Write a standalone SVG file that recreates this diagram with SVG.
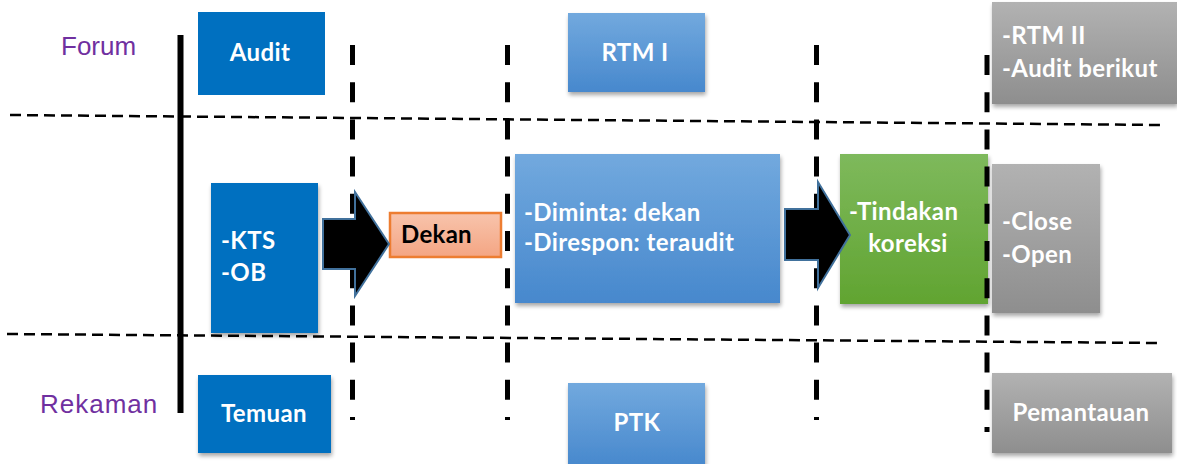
<svg xmlns="http://www.w3.org/2000/svg" width="1177" height="464" viewBox="0 0 1177 464">
  <defs>
    <linearGradient id="gBlue" x1="0" y1="0" x2="0" y2="1">
      <stop offset="0" stop-color="#72A9DE"/>
      <stop offset="1" stop-color="#4788CD"/>
    </linearGradient>
    <linearGradient id="gGreen" x1="0" y1="0" x2="0" y2="1">
      <stop offset="0" stop-color="#7EB95C"/>
      <stop offset="1" stop-color="#61A431"/>
    </linearGradient>
    <linearGradient id="gGray" x1="0" y1="0" x2="0" y2="1">
      <stop offset="0" stop-color="#B2B2B2"/>
      <stop offset="1" stop-color="#8E8E8E"/>
    </linearGradient>
    <linearGradient id="gOrange" x1="0" y1="0" x2="0" y2="1">
      <stop offset="0" stop-color="#F8C4AC"/>
      <stop offset="1" stop-color="#F4A583"/>
    </linearGradient>
    <filter id="shadow" x="-10%" y="-10%" width="125%" height="130%">
      <feGaussianBlur in="SourceAlpha" stdDeviation="2"/>
      <feOffset dx="1" dy="3" result="b"/>
      <feComponentTransfer><feFuncA type="linear" slope="0.35"/></feComponentTransfer>
      <feMerge><feMergeNode/><feMergeNode in="SourceGraphic"/></feMerge>
    </filter>
  </defs>
  <style>
    .lane { font-family: "Liberation Sans", Arial, sans-serif; font-size: 26px; fill: #7030A0; }
    .t { font-family: Lato, "Open Sans", sans-serif; font-weight: bold; font-size: 24px; letter-spacing: 0.4px; fill: #FFFFFF; }
    .tk { font-family: Lato, "Open Sans", sans-serif; font-weight: bold; font-size: 24px; letter-spacing: 0.3px; fill: #000000; }
    .hd { fill: none; stroke: #000; stroke-width: 2.5; stroke-dasharray: 11 6; }
    .vd { fill: none; stroke: #000; stroke-width: 5; stroke-dasharray: 20 17.2; }
    .arrow { fill: #000; stroke: #41719C; stroke-width: 2; stroke-linejoin: miter; }
  </style>

  <rect width="1177" height="464" fill="#FFFFFF"/>

  <g id="lanes">
    <text class="lane" x="61" y="55">Forum</text>
    <text class="lane" x="40" y="413" letter-spacing="1">Rekaman</text>
  </g>

  <g id="grid">
    <line class="hd" x1="10" y1="115" x2="1160" y2="125"/>
    <line class="hd" x1="7" y1="334" x2="1160" y2="343"/>
    <line x1="180.5" y1="35" x2="180.5" y2="413" stroke="#000" stroke-width="6"/>
  </g>

  <g id="audit">
    <rect x="198" y="12" width="127" height="83" fill="#0070C0"/>
    <text class="t" x="260" y="61" text-anchor="middle">Audit</text>
  </g>
  <g id="kts">
    <rect x="211" y="183" width="107" height="150" fill="#0070C0" filter="url(#shadow)"/>
    <text class="t" x="221" y="249">-KTS</text>
    <text class="t" x="221" y="281">-OB</text>
  </g>
  <g id="temuan">
    <rect x="198" y="375" width="133" height="78" fill="#0070C0" filter="url(#shadow)"/>
    <text class="t" x="264" y="422" text-anchor="middle">Temuan</text>
  </g>
  <g id="dekan">
    <rect x="390" y="213" width="111" height="44" fill="url(#gOrange)" stroke="#ED7D31" stroke-width="2.5"/>
    <text class="tk" x="401" y="243">Dekan</text>
  </g>
  <g id="rtm1">
    <rect x="568" y="13" width="137" height="79" fill="url(#gBlue)" filter="url(#shadow)"/>
    <text class="t" x="635" y="61" text-anchor="middle">RTM I</text>
  </g>
  <g id="diminta">
    <rect x="515" y="154" width="265" height="149" fill="url(#gBlue)" filter="url(#shadow)"/>
    <text class="t" x="524" y="221">-Diminta: dekan</text>
    <text class="t" x="524" y="251">-Direspon: teraudit</text>
  </g>
  <g id="ptk">
    <rect x="568" y="383" width="137" height="84" fill="url(#gBlue)" filter="url(#shadow)"/>
    <text class="t" x="637" y="431" text-anchor="middle">PTK</text>
  </g>
  <g id="tindakan">
    <rect x="840" y="154" width="148" height="150" fill="url(#gGreen)" filter="url(#shadow)"/>
    <text class="t" x="849" y="220">-Tindakan</text>
    <text class="t" x="908" y="252" text-anchor="middle">koreksi</text>
  </g>
  <g id="rtm2">
    <rect x="992" y="2" width="185" height="102" fill="url(#gGray)" filter="url(#shadow)"/>
    <text class="t" x="1002" y="44">-RTM II</text>
    <text class="t" x="1002" y="77">-Audit berikut</text>
  </g>
  <g id="closeopen">
    <rect x="992" y="164" width="108" height="149" fill="url(#gGray)" filter="url(#shadow)"/>
    <text class="t" x="1002" y="230">-Close</text>
    <text class="t" x="1002" y="263">-Open</text>
  </g>
  <g id="pemantauan">
    <rect x="992" y="373" width="180" height="80" fill="url(#gGray)" filter="url(#shadow)"/>
    <text class="t" x="1081" y="421" text-anchor="middle">Pemantauan</text>
  </g>

  <g id="dividers">
    <line class="vd" x1="352.5" y1="45" x2="352.5" y2="420"/>
    <line class="vd" x1="507.5" y1="45" x2="507.5" y2="420"/>
    <line class="vd" x1="816.5" y1="45" x2="816.5" y2="420"/>
    <line class="vd" x1="987" y1="55" x2="987" y2="432"/>
  </g>

  <g id="connectors">
    <polygon class="arrow" points="323,219 355,219 355,192 389,244 355,296 355,269 323,269"/>
    <polygon class="arrow" points="785,209 818,209 818,182 850,235 818,288 818,260 785,260"/>
  </g>
</svg>
